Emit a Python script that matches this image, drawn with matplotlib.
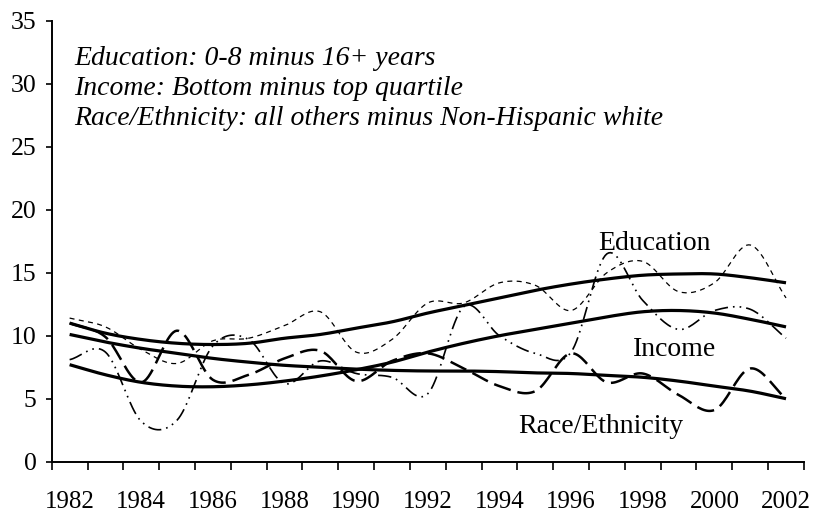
import numpy as np
import matplotlib
matplotlib.use("Agg")
import matplotlib.pyplot as plt

plt.rcParams['font.family'] = ['Liberation Serif', 'DejaVu Serif']

# --- Daten (Jahreswerte) ---
years = list(range(1982, 2003))

edu_raw = [11.4, 10.7, 8.9, 7.8, 9.6, 9.8, 10.8, 11.9, 8.7, 9.7, 12.6,
           12.6, 14.2, 14.0, 12.0, 15.0, 15.9, 13.5, 14.2, 17.2, 13.0]
inc_raw = [8.1, 8.7, 3.2, 3.3, 9.2, 9.7, 6.2, 8.0, 7.0, 6.7, 5.4,
           12.3, 10.0, 8.6, 8.7, 16.5, 12.8, 10.5, 12.0, 12.1, 9.8]
race_raw = [11.0, 9.9, 6.3, 10.4, 6.5, 6.9, 8.2, 8.8, 6.4, 8.0, 8.6,
            7.4, 6.0, 5.6, 8.6, 6.3, 7.0, 5.3, 4.1, 7.4, 5.0]

edu_trend = [11.0, 10.2, 9.7, 9.4, 9.3, 9.4, 9.8, 10.1, 10.6, 11.1, 11.8,
             12.4, 13.0, 13.6, 14.1, 14.5, 14.8, 14.9, 14.9, 14.6, 14.2]
inc_trend = [7.7, 6.9, 6.3, 6.0, 5.95, 6.1, 6.4, 6.8, 7.3, 7.9, 8.7,
             9.4, 10.0, 10.5, 11.0, 11.5, 11.9, 12.0, 11.8, 11.3, 10.7]
race_trend = [10.1, 9.5, 9.0, 8.6, 8.2, 7.9, 7.65, 7.5, 7.35, 7.25, 7.2,
              7.2, 7.15, 7.05, 7.0, 6.85, 6.7, 6.4, 6.0, 5.6, 5.0]

year_labels = [str(y) for y in years if y % 2 == 0]
notes = ["Education: 0-8 minus 16+ years",
         "Income: Bottom minus top quartile",
         "Race/Ethnicity: all others minus Non-Hispanic white"]


# geglaettete Linie wie in Excel (Catmull-Rom durch die Jahreswerte)
def smooth(xs, ys, n=20):
    xs = np.asarray(xs, float)
    ys = np.asarray(ys, float)
    px = np.concatenate([[2 * xs[0] - xs[1]], xs, [2 * xs[-1] - xs[-2]]])
    py = np.concatenate([[2 * ys[0] - ys[1]], ys, [2 * ys[-1] - ys[-2]]])
    t = np.linspace(0, 1, n, endpoint=False)
    out_x, out_y = [], []
    for i in range(1, len(px) - 2):
        for p, out in ((px, out_x), (py, out_y)):
            p0, p1, p2, p3 = p[i - 1], p[i], p[i + 1], p[i + 2]
            out.append(0.5 * (2 * p1 + (-p0 + p2) * t
                              + (2 * p0 - 5 * p1 + 4 * p2 - p3) * t ** 2
                              + (-p0 + 3 * p1 - 3 * p2 + p3) * t ** 3))
    out_x.append([xs[-1]])
    out_y.append([ys[-1]])
    return np.concatenate(out_x), np.concatenate(out_y)


fig = plt.figure(figsize=(8.17, 5.12), dpi=100)
ax = fig.add_axes([0.0633, 0.0982, 0.9207, 0.8614])

# Rohwerte
x, y = smooth(years, edu_raw)
ax.plot(x, y, color='black', lw=0.9, linestyle=(0, (4, 3.5)))
x, y = smooth(years, inc_raw)
ax.plot(x, y, color='black', lw=1.2, linestyle=(0, (8, 3, 1, 3, 1, 3)))
x, y = smooth(years, race_raw)
ax.plot(x, y, color='black', lw=1.8, linestyle=(0, (7, 2.8)))

# Trends
for tr in (edu_trend, inc_trend, race_trend):
    x, y = smooth(years, tr)
    ax.plot(x, y, color='black', lw=2.3, solid_capstyle='butt')

ax.set_xlim(1981.5, 2002.5)
ax.set_ylim(0, 35)

ax.set_xticks(np.arange(1981.5, 2003, 1.0))
ax.set_xticklabels([])
ax.set_xticks([y for y in years if y % 2 == 0], minor=True)
ax.set_xticklabels(year_labels, minor=True)
ax.tick_params(axis='x', which='major', direction='out', length=6, width=1.2)
ax.tick_params(axis='x', which='minor', length=0, pad=21, labelsize=18)
ax.set_yticks(np.arange(0, 36, 5))
ax.tick_params(axis='y', direction='out', length=4, width=1.2, pad=7, labelsize=18.5)

for s in ('top', 'right'):
    ax.spines[s].set_visible(False)
for s in ('left', 'bottom'):
    ax.spines[s].set_linewidth(1.4)

for i, txt in enumerate(notes):
    ax.text(1982.12, 31.5 - 2.4 * i, txt, fontsize=20, style='italic',
            va='baseline', ha='left')

ax.text(1996.77, 16.8, "Education", fontsize=20, va='baseline')
ax.text(1997.74, 8.4, "Income", fontsize=20, va='baseline')
ax.text(1994.53, 2.3, "Race/Ethnicity", fontsize=20, va='baseline')

fig.savefig("out.png", dpi=100)
